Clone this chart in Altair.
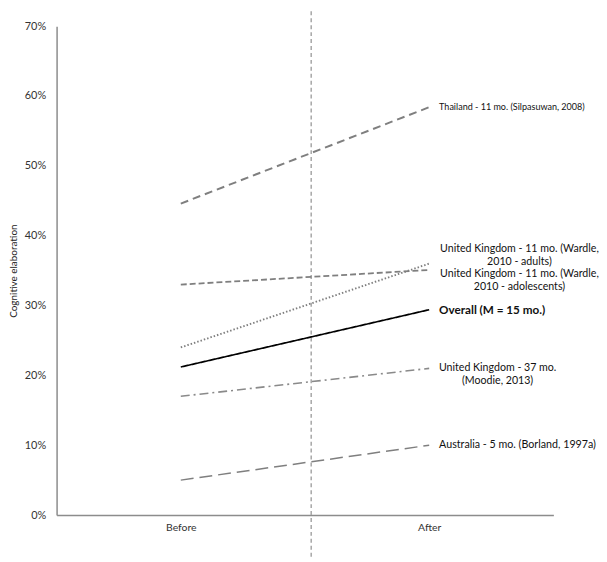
import altair as alt
import pandas as pd

# ---- data ----
series = [
    "Thailand",
    "UK adults",
    "UK adolescents",
    "Overall",
    "UK Moodie",
    "Australia",
]
before = [0.446, 0.240, 0.330, 0.212, 0.170, 0.050]
after = [0.584, 0.360, 0.351, 0.294, 0.210, 0.100]
periods = ["Before", "After"]
period_pos = [0, 1]
y_ticks = [0, 0.1, 0.2, 0.3, 0.4, 0.5, 0.6, 0.7]

series_color = ["#7f7f7f", "#7f7f7f", "#7f7f7f", "#000000", "#8a8a8a", "#7f7f7f"]
series_dash = [[8, 5], [1.5, 2], [6, 3], [1, 0], [9, 4, 2, 4], [13, 6]]
series_width = [2, 1.5, 2, 3.3, 1.6, 2]

# annotation texts (label anchor value in y units)
lab_thai_text = ["Thailand - 11 mo. (Silpasuwan, 2008)"]
lab_thai_y = [0.584]
lab_overall_text = ["Overall (M = 15 mo.)"]
lab_overall_y = [0.294]
lab_wardle_text = [
    "United Kingdom - 11 mo. (Wardle,\n2010 - adults)",
    "United Kingdom - 11 mo. (Wardle,\n2010 - adolescents)",
]
lab_wardle_y = [0.381, 0.345]
lab_moodie_text = ["United Kingdom - 37 mo.\n(Moodie, 2013)"]
lab_moodie_y = [0.210]
lab_aus_text = ["Australia - 5 mo. (Borland, 1997a)"]
lab_aus_y = [0.100]

divider_pos = [0.525]

FONT = "Lato"
W, H = 501, 493
XEND = W * 0.75  # pixel position of "After"

rows = []
for s, b, a in zip(series, before, after):
    rows.append({"series": s, "x": period_pos[0], "y": b})
    rows.append({"series": s, "x": period_pos[1], "y": a})
df = pd.DataFrame(rows)

xscale = alt.Scale(domain=[-0.5, 1.5], nice=False, zero=False)
yscale = alt.Scale(domain=[0, 0.7], nice=False)

x_axis = alt.Axis(
    values=period_pos,
    labelExpr="datum.value < 0.5 ? 'Before' : 'After'",
    title=None,
    grid=False,
    ticks=False,
    domainColor="#8c8c8c",
    domainWidth=1.5,
    labelFont=FONT,
    labelFontSize=10.5,
    labelColor="#333333",
    labelPadding=8,
)
y_axis = alt.Axis(
    values=y_ticks,
    format=".0%",
    title="Cognitive elaboration",
    titleFont=FONT,
    titleFontSize=10,
    titleFontWeight="normal",
    titleColor="#222222",
    titlePadding=6,
    grid=False,
    ticks=False,
    domainColor="#8c8c8c",
    domainWidth=1.5,
    labelFont=FONT,
    labelFontSize=11,
    labelColor="#333333",
    labelPadding=11,
)

lines = alt.Chart(df).mark_line(clip=False).encode(
    x=alt.X("x:Q", scale=xscale, axis=x_axis),
    y=alt.Y("y:Q", scale=yscale, axis=y_axis),
    color=alt.Color("series:N", scale=alt.Scale(domain=series, range=series_color), legend=None),
    strokeDash=alt.StrokeDash("series:N", scale=alt.Scale(domain=series, range=series_dash), legend=None),
    strokeWidth=alt.StrokeWidth("series:N", scale=alt.Scale(domain=series, range=series_width), legend=None),
    detail="series:N",
)

divider = alt.Chart(pd.DataFrame({"x": divider_pos})).mark_rule(
    color="#a6a6a6", strokeDash=[4, 3], strokeWidth=1.5, clip=False
).encode(
    x=alt.X("x:Q", scale=xscale),
    y=alt.value(-15),
    y2=alt.value(H + 43),
)


def text_layer(texts, ys, xpix, align, size, weight="normal"):
    return alt.Chart(pd.DataFrame({"t": texts, "y": ys})).mark_text(
        align=align, baseline="middle", font=FONT, fontSize=size, fontWeight=weight,
        lineBreak="\n", lineHeight=13, color="#111111",
    ).encode(
        x=alt.value(xpix),
        y=alt.Y("y:Q", scale=yscale),
        text="t:N",
    )


lab_thai = text_layer(lab_thai_text, lab_thai_y, XEND + 10, "left", 9.1)
lab_overall = text_layer(lab_overall_text, lab_overall_y, XEND + 10, "left", 11.8, "bold")
lab_wardle = text_layer(lab_wardle_text, lab_wardle_y, XEND + 91, "center", 10.7)
lab_moodie = text_layer(lab_moodie_text, lab_moodie_y, XEND + 69, "center", 10.7)
lab_aus = text_layer(lab_aus_text, lab_aus_y, XEND + 10, "left", 10.8)

chart = alt.layer(divider, lines, lab_thai, lab_overall, lab_wardle, lab_moodie, lab_aus).properties(
    width=W, height=H, background="white",
    padding={"left": 0, "top": 0, "right": 0, "bottom": 0},
).configure_view(stroke=None)

chart.save("out.html", embed_options={"renderer": "svg", "actions": False})
